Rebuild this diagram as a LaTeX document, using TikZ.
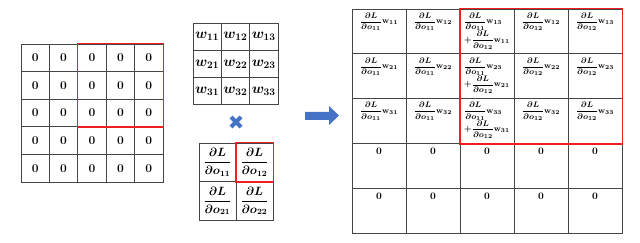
\documentclass[tikz,border=0pt]{standalone}
\usepackage{amsmath}
\usepackage{amssymb}

\definecolor{gridgray}{RGB}{70,70,70}
\definecolor{boxred}{RGB}{240,30,30}
\definecolor{arrowblue}{RGB}{68,114,196}
\newcommand{\dLdo}[1]{\dfrac{\partial L}{\partial o_{#1}}}

\begin{document}
\begin{tikzpicture}[x=1pt, y=-1pt,
    cell/.style={draw=gridgray, line width=0.8pt, inner sep=0pt},
    incell/.style={cell, minimum width=28.4pt, minimum height=27.6pt, font=\large\bfseries},
    wcell/.style={cell, minimum width=28.3pt, minimum height=27.3pt, font=\Large\boldmath},
    dcell/.style={cell, minimum width=37pt, minimum height=38.5pt, font=\large\boldmath},
    gcell/.style={cell, minimum width=54pt, minimum height=44.8pt},
    gtext/.style={anchor=north, inner sep=1pt, align=left, font=\footnotesize\boldmath},
    redbox/.style={draw=boxred, line width=1.8pt}]
    \useasboundingbox (0,0) rectangle (640,243);

    % Eingabe mit Nullen
    \foreach \row in {1,...,5}
        \foreach \col in {1,...,5}
            \node[incell] (in-\row-\col) at ({21+28.4*(\col-0.5)},{44+27.6*(\row-0.5)}) {0};
    \draw[redbox] (in-1-3.north west) rectangle (in-3-5.south east);

    % Kernel w
    \foreach \row in {1,2,3}
        \foreach \col in {1,2,3}
            \node[wcell] (w-\row-\col) at ({193+28.3*(\col-0.5)},{23+27.3*(\row-0.5)}) {$w_{\row\col}$};

    % Mal-Zeichen
    \draw[arrowblue, line width=4pt] (231,117) -- (241,127);
    \draw[arrowblue, line width=4pt] (241,117) -- (231,127);

    % Gradient dL/do
    \foreach \row in {1,2}
        \foreach \col in {1,2}
            \node[dcell] (d-\row-\col) at ({199+37*(\col-0.5)},{143+38.5*(\row-0.5)}) {$\dLdo{\row\col}$};
    \draw[redbox] (d-1-2.north west) rectangle (d-1-2.south east);

    % Pfeil
    \fill[arrowblue] (305,112) -- (329,112) -- (329,106) -- (339,115.5)
        -- (329,125) -- (329,120) -- (305,120) -- cycle;

    % Ergebnis
    \foreach \row in {1,...,5}
        \foreach \col in {1,...,5}
            \node[gcell] (g-\row-\col) at ({352+54*(\col-0.5)},{9+44.8*(\row-0.5)}) {};
    \foreach \row in {1,2,3} {
        \node[gtext] (t-\row-1) at ([yshift=-3pt]g-\row-1.north) {$\dLdo{11}\mathbf{w}_{\row1}$};
        \node[gtext] (t-\row-2) at ([yshift=-3pt]g-\row-2.north) {$\dLdo{11}\mathbf{w}_{\row2}$};
        \node[gtext] (t-\row-3) at ([yshift=-3pt]g-\row-3.north)
            {$\dLdo{11}\mathbf{w}_{\row3}$\\[-1pt]$+\dLdo{12}\mathbf{w}_{\row1}$};
        \node[gtext] (t-\row-4) at ([yshift=-3pt]g-\row-4.north) {$\dLdo{12}\mathbf{w}_{\row2}$};
        \node[gtext] (t-\row-5) at ([yshift=-3pt]g-\row-5.north) {$\dLdo{12}\mathbf{w}_{\row3}$};
    }
    \foreach \row in {4,5}
        \foreach \col in {1,...,5}
            \node[gtext, font=\normalsize\bfseries] (t-\row-\col) at ([yshift=-4pt]g-\row-\col.north) {0};
    \draw[redbox] (g-1-3.north west) rectangle (g-3-5.south east);
\end{tikzpicture}
\end{document}
